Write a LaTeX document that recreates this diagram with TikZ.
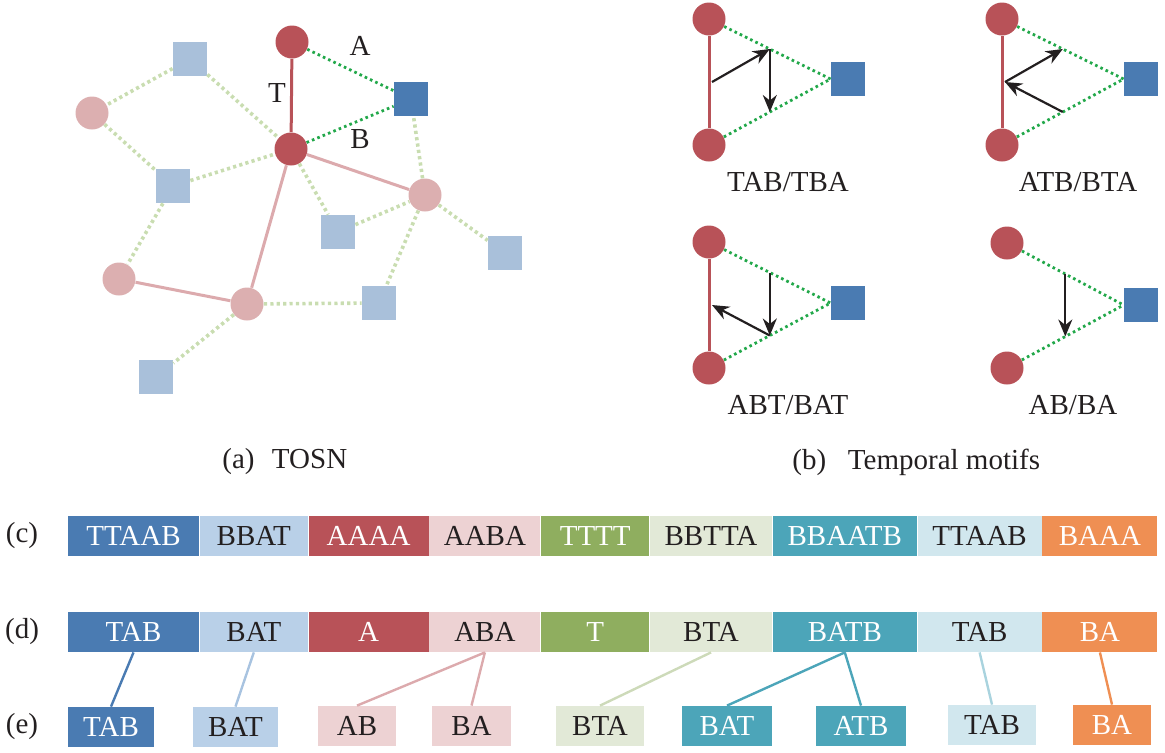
\documentclass[tikz,border=0pt]{standalone}
\usepackage{fontspec}
\setmainfont{Liberation Serif}
\usepackage{tikz}
\usetikzlibrary{arrows.meta,positioning,calc}
\definecolor{cDeep}{HTML}{4A7BB2}
\definecolor{cPale}{HTML}{B9D0E8}
\definecolor{cSquare}{HTML}{A9C0DA}
\definecolor{cRed}{HTML}{B85258}
\definecolor{cPink}{HTML}{EDD2D3}
\definecolor{cPinkNode}{HTML}{DCAFB0}
\definecolor{cPinkLine}{HTML}{DCAAAD}
\definecolor{cGreen}{HTML}{8FAE5F}
\definecolor{cPaleGreen}{HTML}{E2E9D7}
\definecolor{cTeal}{HTML}{4CA5B9}
\definecolor{cPaleCyan}{HTML}{D1E7EE}
\definecolor{cOrange}{HTML}{EF8F53}
\definecolor{cDot}{HTML}{22A84A}
\definecolor{cFaint}{HTML}{C9DDB1}
\definecolor{cInk}{HTML}{231F20}
\tikzset{
  actor/.style ={circle, inner sep=0pt, minimum size=16.5pt, fill=cRed},
  actorl/.style={circle, inner sep=0pt, minimum size=16.5pt, fill=cPinkNode},
  item/.style  ={rectangle, inner sep=0pt, minimum size=17pt, fill=cDeep},
  iteml/.style ={rectangle, inner sep=0pt, minimum size=17pt, fill=cSquare},
  tie/.style   ={line width=1.5pt, draw=cRed},
  tiel/.style  ={line width=1.5pt, draw=cPinkLine},
  act/.style   ={line width=1.4pt, draw=cDot, dash pattern=on 1.3pt off 1.6pt},
  actl/.style  ={line width=1.8pt, draw=cFaint, dash pattern=on 1.6pt off 1.6pt},
  order/.style ={-{Stealth[length=8.5pt,width=7pt]}, line width=1.1pt, draw=cInk},
  lbl/.style   ={font=\fontsize{14.5}{17}\selectfont, text=cInk},
  seg/.style   ={rectangle, inner sep=0pt, minimum height=20pt, font=\fontsize{14.5}{17}\selectfont},
  dark/.style  ={seg, fill=#1, text=white},
  light/.style ={seg, fill=#1, text=cInk},
  split/.style ={line width=1.2pt, draw=#1},
}

\begin{document}
\begin{tikzpicture}[x=0.5pt,y=-0.5pt]
  \useasboundingbox (0,0) rectangle (1165,752);
  % (a) TOSN
  \node[actor]  (u1) at (292,42) {};
  \node[actor]  (u2) at (291,149) {};
  \node[actorl] (u3) at (92,113) {};
  \node[actorl] (u4) at (425,195) {};
  \node[actorl] (u5) at (119,279) {};
  \node[actorl] (u6) at (247,304) {};
  \node[item]   (i1) at (411,99) {};
  \node[iteml]  (i2) at (190,59) {};
  \node[iteml]  (i3) at (173,186) {};
  \node[iteml]  (i4) at (338,232) {};
  \node[iteml]  (i5) at (505,253) {};
  \node[iteml]  (i6) at (379,303) {};
  \node[iteml]  (i7) at (156,377) {};
  \draw[actl](i2)--(u3);\draw[actl](i2)--(u2);\draw[actl](u3)--(i3);\draw[actl](i3)--(u2);
  \draw[actl](i3)--(u5);\draw[actl](u2)--(i4);\draw[actl](i4)--(u4);\draw[actl](u4)--(i1);
  \draw[actl](u4)--(i5);\draw[actl](u4)--(i6);\draw[actl](u6)--(i6);\draw[actl](u6)--(i7);
  \draw[tiel](u2)--(u4);\draw[tiel](u2)--(u6);\draw[tiel](u5)--(u6);
  \draw[tie](u1)--(u2);\draw[act](u1)--(i1);\draw[act](u2)--(i1);
  \node[lbl] (eA) at (360,46) {A};
  \node[lbl] (eT) at (277,93) {T};
  \node[lbl] (eB) at (360,139) {B};
  \node[lbl, anchor=west, inner sep=0pt] (capa) at (222,462) {(a)\hspace{0.6em}TOSN};

  % (b) temporal motifs
  \node[actor] (p1) at (709,19) {};   \node[actor] (q1) at (709,145) {};  \node[item] (s1) at (848,79) {};
  \node[actor] (p2) at (1002,19) {};  \node[actor] (q2) at (1002,145) {}; \node[item] (s2) at (1141,79) {};
  \node[actor] (p3) at (709,242) {};  \node[actor] (q3) at (709,368) {};  \node[item] (s3) at (848,303) {};
  \node[actor] (p4) at (1007,243) {}; \node[actor] (q4) at (1007,368) {}; \node[item] (s4) at (1141,305) {};
  \foreach \k in {1,2,3,4}{
    \draw[act](p\k)--(s\k.west);\draw[act](q\k)--(s\k.west);
    \coordinate (up\k) at ($(p\k)!.5!(s\k.west)$);
    \coordinate (dn\k) at ($(q\k)!.5!(s\k.west)$);
    \coordinate (md\k) at ($(p\k)!.5!(q\k)+(3,0)$);
  }
  \draw[tie](p1)--(q1);\draw[tie](p2)--(q2);\draw[tie](p3)--(q3);
  \draw[order](md1)--(up1);\draw[order](up1)--(dn1);
  \draw[order](md2)--(up2);\draw[order](dn2)--(md2);
  \draw[order](up3)--(dn3);\draw[order](dn3)--(md3);
  \draw[order](up4)--(dn4);
  \node[lbl] (m1) at (788,182) {TAB/TBA};
  \node[lbl] (m2) at (1078,182) {ATB/BTA};
  \node[lbl] (m3) at (788,405) {ABT/BAT};
  \node[lbl] (m4) at (1073,405) {AB/BA};
  \node[lbl, anchor=west, inner sep=0pt] (capb) at (792,462) {(b)\hspace{0.75em}Temporal motifs};

  % (c) raw sequences
  \node[lbl] (rc) at (22,536) {(c)};
  \node[dark=cDeep, minimum width=65.5pt] (c1) at (133.5,536) {TTAAB};
  \node[light=cPale, minimum width=54pt, right=0pt of c1] (c2) {BBAT};
  \node[dark=cRed, minimum width=60pt, right=0pt of c2] (c3) {AAAA};
  \node[light=cPink, minimum width=55.5pt, right=0pt of c3] (c4) {AABA};
  \node[dark=cGreen, minimum width=54pt, right=0pt of c4] (c5) {TTTT};
  \node[light=cPaleGreen, minimum width=61pt, right=0pt of c5] (c6) {BBTTA};
  \node[dark=cTeal, minimum width=72pt, right=0pt of c6] (c7) {BBAATB};
  \node[light=cPaleCyan, minimum width=62pt, right=0pt of c7] (c8) {TTAAB};
  \node[dark=cOrange, minimum width=57.5pt, right=0pt of c8] (c9) {BAAA};

  % (d) compressed sequences
  \node[lbl] (rd) at (22,632) {(d)};
  \node[dark=cDeep, minimum width=65.5pt] (d1) at (133.5,632) {TAB};
  \node[light=cPale, minimum width=54pt, right=0pt of d1] (d2) {BAT};
  \node[dark=cRed, minimum width=60pt, right=0pt of d2] (d3) {A};
  \node[light=cPink, minimum width=55.5pt, right=0pt of d3] (d4) {ABA};
  \node[dark=cGreen, minimum width=54pt, right=0pt of d4] (d5) {T};
  \node[light=cPaleGreen, minimum width=61pt, right=0pt of d5] (d6) {BTA};
  \node[dark=cTeal, minimum width=72pt, right=0pt of d6] (d7) {BATB};
  \node[light=cPaleCyan, minimum width=62pt, right=0pt of d7] (d8) {TAB};
  \node[dark=cOrange, minimum width=57.5pt, right=0pt of d8] (d9) {BA};

  % (e) motif instances
  \node[lbl] (re) at (22,727) {(e)};
  \node[dark=cDeep, minimum width=43pt] (e1) at (111,727) {TAB};
  \node[light=cPale, minimum width=42.5pt] (e2) at (235.5,727) {BAT};
  \node[light=cPink, minimum width=39pt] (e3) at (357,726) {AB};
  \node[light=cPink, minimum width=39.5pt] (e4) at (471.5,726) {BA};
  \node[light=cPaleGreen, minimum width=44pt] (e5) at (600,726) {BTA};
  \node[dark=cTeal, minimum width=45pt] (e6) at (727,726) {BAT};
  \node[dark=cTeal, minimum width=45pt] (e7) at (861,726) {ATB};
  \node[light=cPaleCyan, minimum width=44pt] (e8) at (992,725) {TAB};
  \node[dark=cOrange, minimum width=39pt] (e9) at (1112,725) {BA};
  \draw[split=cDeep](d1.south)--(e1.north);
  \draw[split=cPale!85!cDeep](d2.south)--(e2.north);
  \draw[split=cPinkLine](d4.south)--(e3.north);\draw[split=cPinkLine](d4.south)--(e4.north);
  \draw[split=cPaleGreen!75!cGreen](d6.south)--(e5.north);
  \draw[split=cTeal](d7.south)--(e6.north);\draw[split=cTeal](d7.south)--(e7.north);
  \draw[split=cPaleCyan!70!cTeal](d8.south)--(e8.north);
  \draw[split=cOrange](d9.south)--(e9.north);
\end{tikzpicture}
\end{document}
